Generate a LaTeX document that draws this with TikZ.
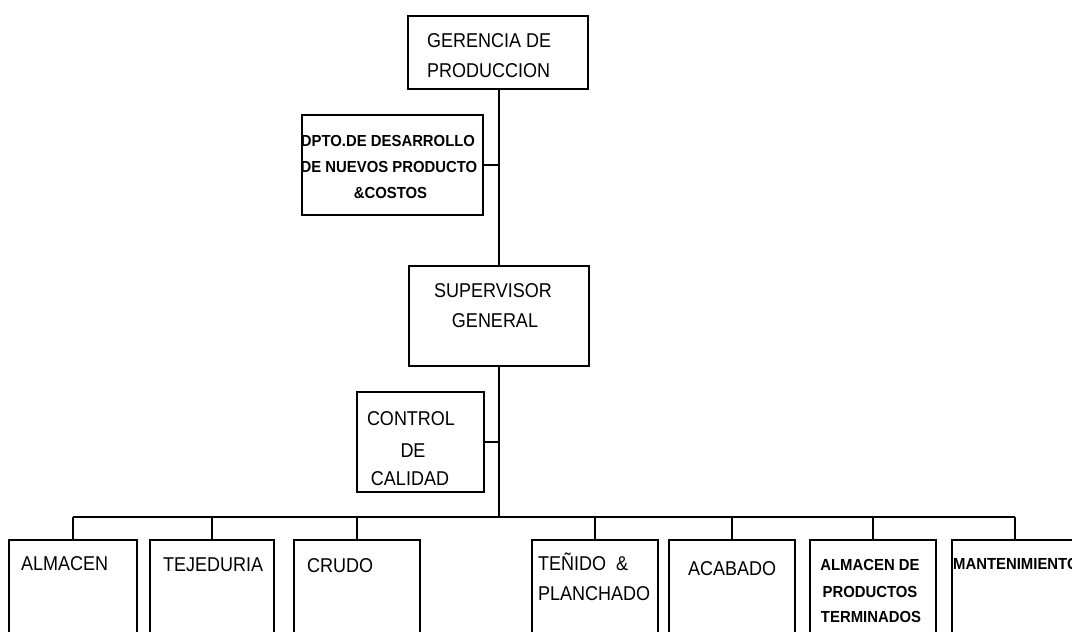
\documentclass[tikz,border=0pt]{standalone}
\usepackage{fontspec}
\setmainfont{Liberation Sans}
\newfontfamily\orgfont{Liberation Sans}[FakeStretch=0.9]
\newfontfamily\orgboldfont{Liberation Sans}[FakeStretch=0.93]
\begin{document}
\begin{tikzpicture}[x=1pt,y=-1pt,
  orgbox/.style={draw=black, line width=1.6pt, inner sep=0pt, fill=none},
  link/.style={draw=black, line width=1.6pt},
  bigtxt/.style={inner sep=0pt, font=\orgfont\fontsize{20}{24}\selectfont},
  smalltxt/.style={inner sep=0pt, font=\orgboldfont\bfseries\fontsize{16}{19}\selectfont}]

\useasboundingbox (0,0) rectangle (1072,632);
\fill[white] (0,0) rectangle (1072,632);
\clip (0,0) rectangle (1072,632);

% upper chain of boxes
\node[orgbox, minimum width=180pt, minimum height=73pt]  (ger)  at (498,52.5) {};
\node[orgbox, minimum width=181pt, minimum height=100pt] (dpto) at (392.5,165) {};
\node[orgbox, minimum width=180pt, minimum height=100pt] (sup)  at (499,316) {};
\node[orgbox, minimum width=127pt, minimum height=100pt] (ctrl) at (420.5,442) {};

% lower row of boxes (running past the lower edge)
\node[orgbox, minimum width=128pt, minimum height=160pt] (alm) at (73,620) {};
\node[orgbox, minimum width=124pt, minimum height=160pt] (tej) at (212,620) {};
\node[orgbox, minimum width=126pt, minimum height=160pt] (cru) at (357,620) {};
\node[orgbox, minimum width=126pt, minimum height=160pt] (ten) at (595,620) {};
\node[orgbox, minimum width=126pt, minimum height=160pt] (aca) at (732,620) {};
\node[orgbox, minimum width=126pt, minimum height=160pt] (apt) at (873,620) {};
\node[orgbox, minimum width=126pt, minimum height=160pt] (man) at (1015,620) {};

% connectors
\coordinate (bus) at (499,517);
\draw[link] (sup.north |- ger.south) -- (sup.north);
\draw[link] (dpto.east) -- (dpto.east -| sup.north);
\draw[link] (sup.south) -- (sup.south |- bus);
\draw[link] (ctrl.east) -- (ctrl.east -| sup.south);
\draw[link] (alm.north |- bus) -- (man.north |- bus);
\foreach \b in {alm,tej,cru,ten,aca,apt,man}
  \draw[link] (\b.north) -- (\b.north |- bus);

% texts
\node[bigtxt, anchor=base west] (t-ger1) at (427,47) {GERENCIA DE};
\node[bigtxt, anchor=base west] (t-ger2) at (427,77) {PRODUCCION};

\node[smalltxt, anchor=base] (t-dpto1) at (388,146) {DPTO.DE DESARROLLO};
\node[smalltxt, anchor=base] (t-dpto2) at (389,172) {DE NUEVOS PRODUCTO};
\node[smalltxt, anchor=base] (t-dpto3) at (390.5,198) {\&COSTOS};

\node[bigtxt, anchor=base] (t-sup1) at (493,297) {SUPERVISOR};
\node[bigtxt, anchor=base] (t-sup2) at (495,327) {GENERAL};

\node[bigtxt, anchor=base] (t-ctrl1) at (411,425) {CONTROL};
\node[bigtxt, anchor=base] (t-ctrl2) at (413,457) {DE};
\node[bigtxt, anchor=base] (t-ctrl3) at (410,485) {CALIDAD};

\node[bigtxt, anchor=base west] (t-alm) at (21,570) {ALMACEN};
\node[bigtxt, anchor=base west] (t-tej) at (163,571) {TEJEDURIA};
\node[bigtxt, anchor=base west] (t-cru) at (307,572) {CRUDO};
\node[bigtxt, anchor=base west] (t-ten1) at (538,570) {TEÑIDO\ \ \&};
\node[bigtxt, anchor=base west] (t-ten2) at (538,600) {PLANCHADO};
\node[bigtxt, anchor=base west] (t-aca) at (688,575) {ACABADO};

\node[smalltxt, anchor=base] (t-apt1) at (870,570) {ALMACEN DE};
\node[smalltxt, anchor=base] (t-apt2) at (870,597) {PRODUCTOS};
\node[smalltxt, anchor=base] (t-apt3) at (871,622) {TERMINADOS};

\node[smalltxt, anchor=base west] (t-man) at (953,569) {MANTENIMIENTO};
\end{tikzpicture}
\end{document}
